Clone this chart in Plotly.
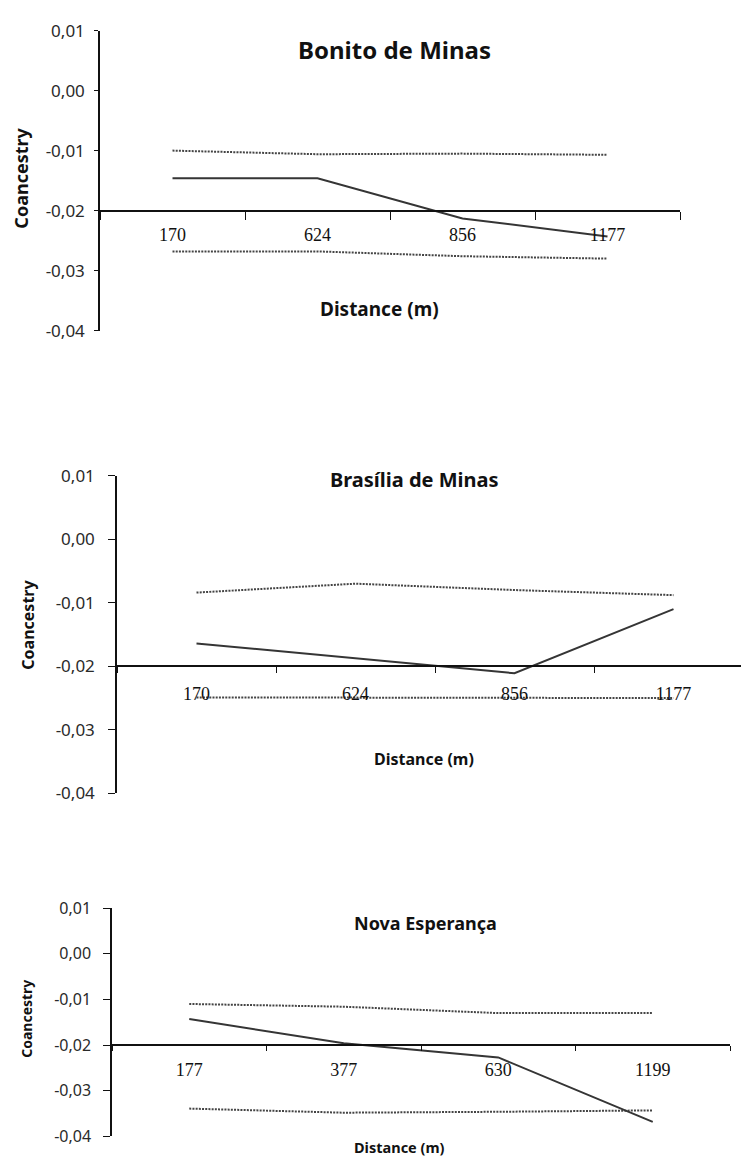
import plotly.graph_objects as go

W, H = 741, 1170

# ---------------- data ----------------
bonito_dist = ["170", "624", "856", "1177"]
bonito_obs = [-0.0146, -0.0146, -0.0213, -0.0243]
bonito_upper = [-0.0100, -0.0106, -0.0105, -0.0107]
bonito_lower = [-0.0268, -0.0268, -0.0276, -0.0280]

brasilia_dist = ["170", "624", "856", "1177"]
brasilia_obs = [-0.0164, -0.0187, -0.0211, -0.0110]
brasilia_upper = [-0.0084, -0.0070, -0.0080, -0.0088]
brasilia_lower = [-0.0249, -0.0249, -0.0249, -0.0250]

nova_dist = ["177", "377", "630", "1199"]
nova_obs = [-0.0143, -0.0196, -0.0227, -0.0368]
nova_upper = [-0.0110, -0.0116, -0.0130, -0.0130]
nova_lower = [-0.0339, -0.0348, -0.0346, -0.0343]

y_tickvals = [0.01, 0.00, -0.01, -0.02, -0.03, -0.04]
y_ticktext = ["0,01", "0,00", "-0,01", "-0,02", "-0,03", "-0,04"]

titles = ["Bonito de Minas", "Brasília de Minas", "Nova Esperança"]
x_title = "Distance (m)"
y_title = "Coancestry"

# ---------------- layout geometry (pixels) ----------------
panels = [
    dict(dist=bonito_dist, obs=bonito_obs, up=bonito_upper, lo=bonito_lower,
         xl=100, cat_w=145, ytop=19, ybot=325, xaxis_y=203,
         title_xy=(394, 38), title_size=24, dist_xy=(380, 303), dist_size=19,
         ylab_xy=(21, 170), ylab_size=18, xtick_size=18, ytick_size=17,
         xticklen=8, yticklen=4, xstand=8, ystand=6),
    dict(dist=brasilia_dist, obs=brasilia_obs, up=brasilia_upper, lo=brasilia_lower,
         xl=117, cat_w=159, ytop=473, ybot=797, xaxis_y=667,
         title_xy=(415, 477), title_size=20, dist_xy=(424, 762), dist_size=16,
         ylab_xy=(28, 625), ylab_size=16, xtick_size=18, ytick_size=17,
         xticklen=6, yticklen=7, xstand=12, ystand=10),
    dict(dist=nova_dist, obs=nova_obs, up=nova_upper, lo=nova_lower,
         xl=112, cat_w=154.5, ytop=914, ybot=1147, xaxis_y=1054,
         title_xy=(425, 929), title_size=18, dist_xy=(399, 1158), dist_size=14.5,
         ylab_xy=(27, 1027), ylab_size=14, xtick_size=18, ytick_size=16,
         xticklen=5, yticklen=7, xstand=8, ystand=9),
]

fig = go.Figure()
annotations = []
layout_axes = {}

for i, p in enumerate(panels, start=1):
    xa = "x" if i == 1 else f"x{i}"
    ya = "y" if i == 1 else f"y{i}"
    xr_px = p["xl"] + 4 * p["cat_w"]
    if xr_px > W:
        x_dom = [p["xl"] / W, 1.0]
        rmax = -0.5 + (W - p["xl"]) / p["cat_w"]
    else:
        x_dom = [p["xl"] / W, xr_px / W]
        rmax = 3.5
    y_dom = [1 - p["ybot"] / H, 1 - p["ytop"] / H]

    # dotted envelopes
    for series in (p["up"], p["lo"]):
        fig.add_trace(go.Scatter(
            x=p["dist"], y=series, mode="lines", xaxis=xa, yaxis=ya,
            line=dict(color="#444444", width=2, dash="2px,1.2px"),
            showlegend=False, hoverinfo="skip"))
    # observed
    fig.add_trace(go.Scatter(
        x=p["dist"], y=p["obs"], mode="lines", xaxis=xa, yaxis=ya,
        line=dict(color="#353535", width=2),
        showlegend=False, hoverinfo="skip"))

    xkey = "xaxis" if i == 1 else f"xaxis{i}"
    ykey = "yaxis" if i == 1 else f"yaxis{i}"
    layout_axes[xkey] = dict(
        domain=x_dom, anchor="free", position=1 - p["xaxis_y"] / H,
        type="category", categoryorder="array", categoryarray=p["dist"],
        range=[-0.5, rmax], tickson="boundaries", ticks="outside",
        ticklen=p["xticklen"], tickcolor="#111", tickwidth=1.3,
        showline=True, linecolor="#111", linewidth=1.5,
        showgrid=False, zeroline=False, ticklabelstandoff=p["xstand"],
        tickfont=dict(family="Liberation Serif", size=p["xtick_size"], color="#111"),
        fixedrange=True,
    )
    layout_axes[ykey] = dict(
        domain=y_dom, anchor=xa, range=[-0.04, 0.01],
        tickmode="array", tickvals=y_tickvals, ticktext=y_ticktext,
        ticks="outside", ticklen=p["yticklen"], tickcolor="#111", tickwidth=1.3,
        showline=True, linecolor="#111", linewidth=1.5,
        showgrid=False, zeroline=False, ticklabelstandoff=p["ystand"],
        tickfont=dict(family="Noto Sans", size=p["ytick_size"], color="#2a2a2a"),
        fixedrange=True,
    )

    tx, ty = p["title_xy"]
    annotations.append(dict(
        text=f"<b>{titles[i-1]}</b>", x=tx / W, y=1 - ty / H, xref="paper", yref="paper",
        xanchor="center", yanchor="middle", showarrow=False,
        font=dict(family="Noto Sans", size=p["title_size"], color="#111")))
    dx, dy = p["dist_xy"]
    annotations.append(dict(
        text=f"<b>{x_title}</b>", x=dx / W, y=1 - dy / H, xref="paper", yref="paper",
        xanchor="center", yanchor="middle", showarrow=False,
        font=dict(family="Noto Sans", size=p["dist_size"], color="#111")))
    lx, ly = p["ylab_xy"]
    annotations.append(dict(
        text=f"<b>{y_title}</b>", x=lx / W, y=1 - ly / H, xref="paper", yref="paper",
        xanchor="center", yanchor="middle", showarrow=False, textangle=-90,
        font=dict(family="Noto Sans", size=p["ylab_size"], color="#111")))

fig.update_layout(
    width=W, height=H, margin=dict(l=0, r=0, t=0, b=0),
    paper_bgcolor="white", plot_bgcolor="white",
    showlegend=False, annotations=annotations, **layout_axes,
)

fig.write_html(
    "out.html",
    config={"displayModeBar": False},
    post_script="document.body.style.margin='0';document.body.style.overflow='hidden';",
)
